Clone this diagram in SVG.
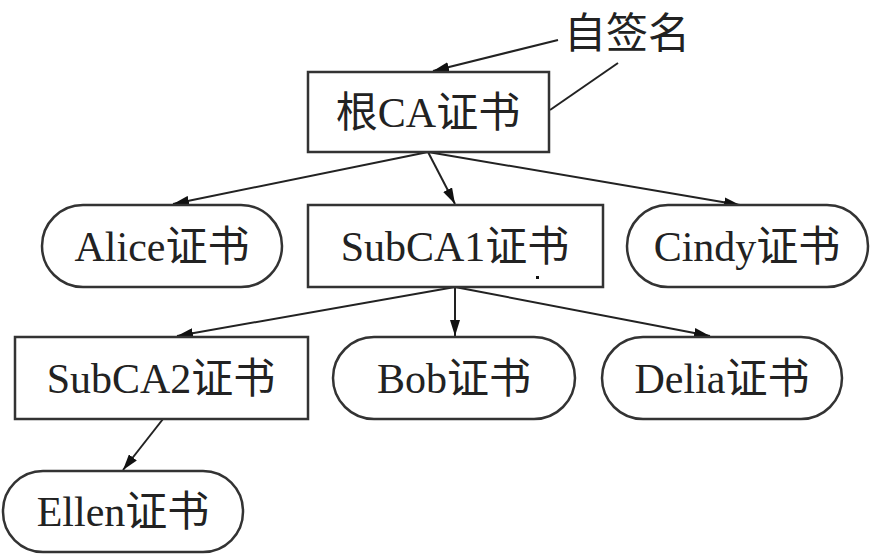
<svg xmlns="http://www.w3.org/2000/svg" width="870" height="554" viewBox="0 0 870 554">
<style>
.box{fill:#fff;stroke:#333;stroke-width:2.5}
.t{font-family:"Liberation Serif","Noto Sans CJK SC",serif;font-size:42px;fill:#222;text-anchor:middle}
.c{stroke:#222;stroke-width:2;fill:none}
</style>
<defs>
<marker id="ah" viewBox="0 0 16 10" refX="16" refY="5" markerWidth="16" markerHeight="10" markerUnits="userSpaceOnUse" orient="auto">
<path d="M0,0 L16,5 L0,10 Z" fill="#111"/>
</marker>
</defs>
<rect width="870" height="554" fill="#fff"/>
<g id="connectors">
<line class="c" x1="558" y1="40" x2="433" y2="71" marker-end="url(#ah)"/>
<line class="c" x1="618" y1="63" x2="550" y2="110"/>
<line class="c" x1="428" y1="152" x2="173" y2="204" marker-end="url(#ah)"/>
<line class="c" x1="428" y1="152" x2="455" y2="204" marker-end="url(#ah)"/>
<line class="c" x1="428" y1="152" x2="740" y2="205" marker-end="url(#ah)"/>
<line class="c" x1="455" y1="287" x2="177" y2="336" marker-end="url(#ah)"/>
<line class="c" x1="455" y1="287" x2="455" y2="336" marker-end="url(#ah)"/>
<line class="c" x1="455" y1="287" x2="710" y2="336" marker-end="url(#ah)"/>
<line class="c" x1="163" y1="419" x2="123" y2="470" marker-end="url(#ah)"/>
</g>
<g id="selfsign">
<text class="t" x="627" y="48">自签名</text>
</g>
<g id="root">
<rect class="box" x="308" y="72" width="241" height="80"/>
<text class="t" x="428" y="127">根CA证书</text>
</g>
<g id="alice">
<rect class="box" x="42" y="205" width="240" height="82" rx="41" ry="41"/>
<text class="t" x="162" y="261">Alice证书</text>
</g>
<g id="subca1">
<rect class="box" x="308" y="205" width="295" height="82"/>
<text class="t" x="455" y="261">SubCA1证书</text>
<rect x="536" y="276" width="3" height="3" fill="#111"/>
</g>
<g id="cindy">
<rect class="box" x="627" y="205" width="241" height="82" rx="41" ry="41"/>
<text class="t" x="747" y="261">Cindy证书</text>
</g>
<g id="subca2">
<rect class="box" x="15" y="337" width="293" height="82"/>
<text class="t" x="161" y="393">SubCA2证书</text>
</g>
<g id="bob">
<rect class="box" x="333" y="337" width="242" height="82" rx="41" ry="41"/>
<text class="t" x="454" y="393">Bob证书</text>
</g>
<g id="delia">
<rect class="box" x="602" y="337" width="240" height="82" rx="41" ry="41"/>
<text class="t" x="722" y="393">Delia证书</text>
</g>
<g id="ellen">
<rect class="box" x="3" y="471" width="240" height="81" rx="40" ry="40"/>
<text class="t" x="123" y="526">Ellen证书</text>
</g>
</svg>
